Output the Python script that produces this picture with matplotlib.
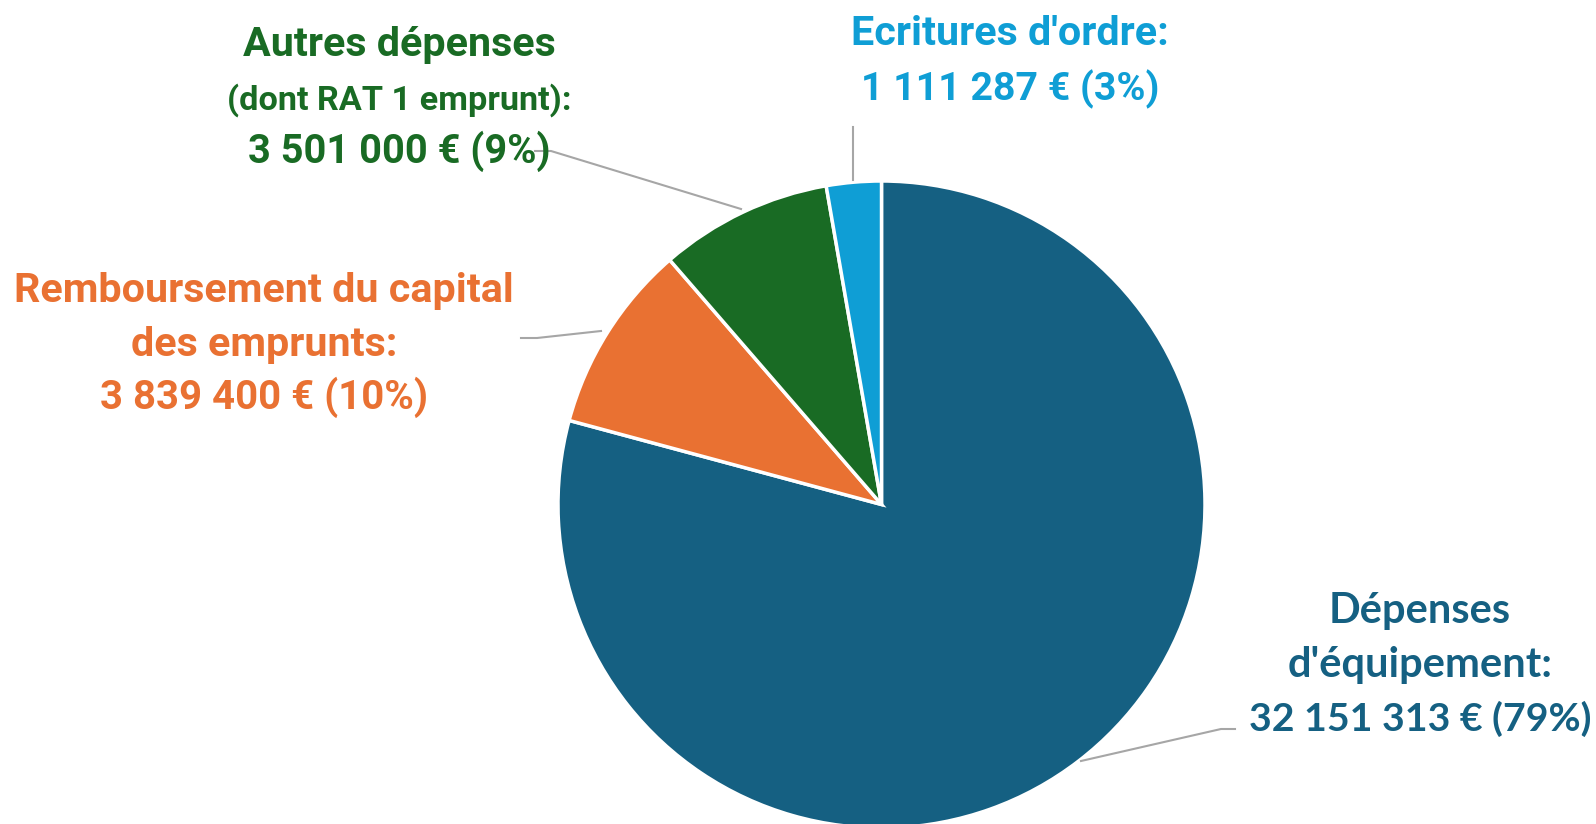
import matplotlib.pyplot as plt
from matplotlib import font_manager

# montants (EUR) et pourcentages affichés
labels = ["Dépenses d'équipement", "Remboursement du capital des emprunts",
          "Autres dépenses", "Ecritures d'ordre"]
values = [32151313, 3839400, 3501000, 1111287]
pct_labels = [79, 10, 9, 3]
colors = ["#156082", "#E97132", "#196B24", "#0F9ED5"]

names = {f.name for f in font_manager.fontManager.ttflist}
narrow = "Roboto" if "Roboto" in names else "DejaVu Sans"
regular = "Lato" if "Lato" in names else "DejaVu Sans"

W, H = 1596, 824
fig = plt.figure(figsize=(W / 100, H / 100), dpi=100)
ax = fig.add_axes([0, 0, 1, 1])


def Y(y):
    return H - y


ax.pie(values, colors=colors, startangle=90, counterclock=False,
       center=(881.5, Y(504.5)), radius=323.5, frame=True,
       wedgeprops=dict(edgecolor="white", linewidth=2.5))
ax.set_xlim(0, W)
ax.set_ylim(0, H)
ax.set_aspect("equal")
ax.axis("off")


def fmt(v, p):
    return f"{v:,}".replace(",", " ") + f" € ({p}%)"


gray = "#a6a6a6"


def lines_at(x, rows, color):
    for y, txt, size, fam in rows:
        ax.text(x, Y(y), txt, ha="center", va="baseline", color=color,
                fontsize=size, fontweight="bold", family=fam)


# Dépenses d'équipement
lines_at(1420, [(623, "Dépenses", 30, regular),
                (677, "d'équipement:", 30, regular),
                (731, fmt(values[0], pct_labels[0]), 28.3, regular)], colors[0])
ax.plot([1081, 1221, 1235], [Y(761), Y(729), Y(729)], color=gray, lw=1.5)

# Remboursement du capital
lines_at(264, [(302, "Remboursement du capital", 29.7, narrow),
               (356, "des emprunts:", 29.7, narrow),
               (409, fmt(values[1], pct_labels[1]), 28.9, narrow)], colors[1])
ax.plot([521, 537, 601], [Y(338), Y(338), Y(331)], color=gray, lw=1.5)

# Autres dépenses
lines_at(399, [(56, "Autres dépenses", 29.7, narrow),
               (110, "(dont RAT 1 emprunt):", 24.7, narrow),
               (163, fmt(values[2], pct_labels[2]), 28.6, narrow)], colors[2])
ax.plot([535, 551, 741], [Y(151), Y(151), Y(209)], color=gray, lw=1.5)

# Ecritures d'ordre
lines_at(1010, [(45, "Ecritures d'ordre:", 29.7, narrow),
                (100, fmt(values[3], pct_labels[3]), 28.3, narrow)], colors[3])
ax.plot([853, 853], [Y(127), Y(180)], color=gray, lw=1.5)

fig.savefig("out.png", dpi=100)
